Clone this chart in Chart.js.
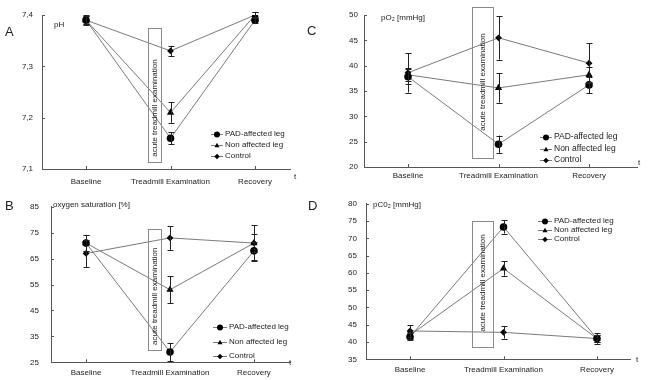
<!DOCTYPE html>
<html><head><meta charset="utf-8">
<script src="https://cdn.jsdelivr.net/npm/chart.js@4.4.0/dist/chart.umd.min.js"></script>
<style>
html,body{margin:0;padding:0;background:#fff;width:650px;height:380px;overflow:hidden}
canvas{position:absolute}
</style></head><body>
<canvas id="cA" style="left:0;top:0" width="303" height="190"></canvas>
<canvas id="cC" style="left:303px;top:0" width="347" height="190"></canvas>
<canvas id="cB" style="left:0;top:190px" width="303" height="190"></canvas>
<canvas id="cD" style="left:303px;top:190px" width="347" height="190"></canvas>
<script>
// ---- data ----
const categories = ['Baseline', 'Treadmill Examination', 'Recovery'];
const seriesNames = ['PAD-affected leg', 'Non affected leg', 'Control'];

// A: pH
const phTicks = [7.1, 7.2, 7.3, 7.4];
const phPAD = [7.39, 7.16, 7.39];
const phNon = [7.39, 7.21, 7.40];
const phCtrl = [7.39, 7.33, 7.40];
const phPADErr = [0.008, 0.012, 0.006];
const phNonErr = [0.008, 0.02, 0.006];
const phCtrlErr = [0.01, 0.01, 0.006];

// C: pO2
const po2Ticks = [20, 25, 30, 35, 40, 45, 50];
const po2PAD = [37.8, 24.5, 36.2];
const po2Non = [38.2, 35.6, 38.2];
const po2Ctrl = [38.6, 45.5, 40.5];
const po2PADErr = [1.5, 1.7, 1.6];
const po2NonErr = [1.3, 2.9, 1.5];
const po2CtrlErr = [3.9, 4.3, 3.9];

// B: oxygen saturation
const satTicks = [25, 35, 45, 55, 65, 75, 85];
const satPAD = [71, 29, 68];
const satNon = [71, 53, 71];
const satCtrl = [67, 73, 71];
const satPADErr = [3.2, 3.5, 3.5];
const satNonErr = [3, 5.2, 3.5];
const satCtrlErr = [5.2, 4.6, 7];

// D: pCO2
const pco2Ticks = [35, 40, 45, 50, 55, 60, 65, 70, 75, 80];
const pco2PAD = [41.5, 73.3, 41];
const pco2Non = [42, 61.3, 41];
const pco2Ctrl = [43.2, 42.8, 41];
const pco2PADErr = [1, 1.9, 1];
const pco2NonErr = [1, 2.1, 1];
const pco2CtrlErr = [1.7, 1.8, 1.5];

// ---- styling ----
const FONT = 'Liberation Sans, Arial, DejaVu Sans, sans-serif';
const pointStyles = ['circle', 'triangle', 'rectRot'];
const pointRadii = [3.8, 4.2, 3.4];
const LINE = '#7a7a7a';
const AXIS = '#555';
const TXT = '#222';

function drawMarker(ctx, style, x, y, r) {
  ctx.beginPath();
  if (style === 'circle') ctx.arc(x, y, r, 0, Math.PI * 2);
  else if (style === 'triangle') { ctx.moveTo(x, y - r); ctx.lineTo(x + r * 0.9, y + r * 0.6); ctx.lineTo(x - r * 0.9, y + r * 0.6); ctx.closePath(); }
  else { ctx.moveTo(x, y - r); ctx.lineTo(x + r, y); ctx.lineTo(x, y + r); ctx.lineTo(x - r, y); ctx.closePath(); }
  ctx.fill();
}

function makePanel(cfg) {
  const canvas = document.getElementById(cfg.id);
  const W = canvas.width, H = canvas.height, a = cfg.area;
  const yt = cfg.yTicks;
  const deco = {
    id: 'deco',
    afterDraw(chart) {
      const ctx = chart.ctx, xs = chart.scales.x, ys = chart.scales.y;
      const L = chart.chartArea.left, B = chart.chartArea.bottom;
      ctx.save();
      // inward ticks
      ctx.strokeStyle = AXIS; ctx.lineWidth = 1;
      ctx.beginPath();
      yt.forEach(v => { const p = Math.round(ys.getPixelForValue(v)) + 0.5; ctx.moveTo(L, p); ctx.lineTo(L + 3, p); });
      categories.forEach((c, i) => { const p = Math.round(xs.getPixelForValue(i)) + 0.5; ctx.moveTo(p, B); ctx.lineTo(p, B - 3); });
      ctx.stroke();
      // error bars
      ctx.strokeStyle = '#222';
      cfg.series.forEach((vals, s) => {
        vals.forEach((v, j) => {
          const e = cfg.errs[s][j];
          const x = Math.round(xs.getPixelForValue(j)) + 0.5;
          const y1 = ys.getPixelForValue(v + e), y2 = ys.getPixelForValue(v - e);
          ctx.beginPath();
          ctx.moveTo(x, y1); ctx.lineTo(x, y2);
          ctx.moveTo(x - 3, Math.round(y1) + 0.5); ctx.lineTo(x + 3, Math.round(y1) + 0.5);
          ctx.moveTo(x - 3, Math.round(y2) + 0.5); ctx.lineTo(x + 3, Math.round(y2) + 0.5);
          ctx.stroke();
        });
      });
      // examination box
      const r = cfg.box;
      const bx1 = Math.round(xs.getPixelForValue(r.x0)) + 0.5, bx2 = Math.round(xs.getPixelForValue(r.x1)) + 0.5;
      const by1 = Math.round(ys.getPixelForValue(r.y1)) + 0.5, by2 = Math.round(ys.getPixelForValue(r.y0)) + 0.5;
      ctx.strokeStyle = '#8a8a8a';
      ctx.strokeRect(bx1, by1, bx2 - bx1, by2 - by1);
      ctx.save();
      ctx.translate(xs.getPixelForValue(r.tx), ys.getPixelForValue(r.ty));
      ctx.rotate(-Math.PI / 2);
      ctx.fillStyle = TXT; ctx.font = '8px ' + FONT; ctx.textAlign = 'center'; ctx.textBaseline = 'middle';
      ctx.fillText('acute treadmill examination', 0, 0);
      ctx.restore();
      // texts
      ctx.fillStyle = TXT; ctx.textBaseline = 'middle'; ctx.textAlign = 'left';
      ctx.font = '8px ' + FONT;
      ctx.fillText(cfg.yTitle, cfg.yTitlePos[0], cfg.yTitlePos[1]);
      ctx.fillText('t', cfg.tPos[0], cfg.tPos[1]);
      ctx.fillStyle = '#222';
      ctx.font = '13px ' + FONT;
      ctx.fillText(cfg.letter, cfg.letterPos[0], cfg.letterPos[1]);
      // legend
      const lg = cfg.legend;
      ctx.font = (lg.size || 8) + 'px ' + FONT;
      seriesNames.forEach((n, i) => {
        const y = lg.rows[i];
        ctx.strokeStyle = LINE; ctx.beginPath();
        ctx.moveTo(lg.x1, Math.round(y) + 0.5); ctx.lineTo(lg.x2, Math.round(y) + 0.5); ctx.stroke();
        ctx.fillStyle = '#000';
        drawMarker(ctx, pointStyles[i], (lg.x1 + lg.x2) / 2, Math.round(y) + 0.5, i === 0 ? 3 : 2.8);
        ctx.fillStyle = TXT;
        ctx.fillText(n, lg.tx, y);
      });
      ctx.restore();
    }
  };
  return new Chart(canvas, {
    type: 'line',
    data: {
      datasets: cfg.series.map((vals, i) => ({
        label: seriesNames[i],
        data: vals.map((v, j) => ({ x: j, y: v })),
        borderColor: LINE, borderWidth: 1, tension: 0, fill: false,
        pointStyle: pointStyles[i], pointRadius: pointRadii[i],
        pointBackgroundColor: '#000', pointBorderColor: '#000', pointBorderWidth: 0
      }))
    },
    options: {
      responsive: false, animation: false, events: [],
      layout: { padding: { left: 0, top: a.top, right: W - a.right, bottom: 0 } },
      plugins: { legend: { display: false }, tooltip: { enabled: false } },
      scales: {
        x: {
          type: 'linear', min: cfg.xRange[0], max: cfg.xRange[1],
          afterBuildTicks: s => { s.ticks = categories.map((c, i) => ({ value: i })); },
          afterFit: s => { s.height = H - a.bottom; },
          grid: { display: false, drawTicks: false },
          border: { display: true, color: AXIS, width: 1 },
          ticks: { padding: cfg.xPad, color: TXT, font: { family: FONT, size: 8 }, autoSkip: false, maxRotation: 0,
                   callback: v => categories[v] }
        },
        y: {
          type: 'linear', min: yt[0], max: yt[yt.length - 1],
          afterBuildTicks: s => { s.ticks = yt.map(v => ({ value: v })); },
          afterFit: s => { s.width = a.left; },
          grid: { display: false, drawTicks: false },
          border: { display: true, color: AXIS, width: 1 },
          ticks: { padding: cfg.yPad, color: TXT, font: { family: FONT, size: 8 }, autoSkip: false,
                   callback: cfg.fmt }
        }
      }
    },
    plugins: [deco]
  });
}

makePanel({
  id: 'cA', area: { left: 42, right: 290, top: 15, bottom: 169 }, xRange: [-0.521, 2.414],
  yTicks: phTicks, fmt: v => v.toFixed(1).replace('.', ','), xPad: 8, yPad: 9,
  series: [phPAD, phNon, phCtrl], errs: [phPADErr, phNonErr, phCtrlErr],
  box: { x0: 0.734, x1: 0.888, y0: 7.1136, y1: 7.3747, tx: 0.81, ty: 7.2188 },
  yTitle: 'pH', yTitlePos: [54, 25], tPos: [294, 177], letter: 'A', letterPos: [5, 32],
  legend: { x1: 211, x2: 223, tx: 225, rows: [134, 145, 156] }
});
makePanel({
  id: 'cC', area: { left: 61, right: 334, top: 15, bottom: 167 }, xRange: [-0.486, 2.530],
  yTicks: po2Ticks, fmt: v => String(v), xPad: 4, yPad: 6,
  series: [po2PAD, po2Non, po2Ctrl], errs: [po2PADErr, po2NonErr, po2CtrlErr],
  box: { x0: 0.707, x1: 0.939, y0: 21.78, y1: 51.58, tx: 0.823, ty: 36.78 },
  yTitle: 'pO\u2082 [mmHg]', yTitlePos: [78, 18], tPos: [335, 163], letter: 'C', letterPos: [4, 31],
  legend: { x1: 237, x2: 249, tx: 251, rows: [137, 149, 160], size: 8.5 }
});
makePanel({
  id: 'cB', area: { left: 51, right: 290, top: 9.3, bottom: 172.3 }, xRange: [-0.417, 2.429],
  yTicks: satTicks, fmt: v => String(v), xPad: 6, yPad: 12,
  series: [satPAD, satNon, satCtrl], errs: [satPADErr, satNonErr, satCtrlErr],
  box: { x0: 0.738, x1: 0.893, y0: 29.9, y1: 76.28, tx: 0.815, ty: 50.5 },
  yTitle: 'oxygen saturation [%]', yTitlePos: [53, 15], tPos: [289, 173], letter: 'B', letterPos: [5, 16],
  legend: { x1: 213, x2: 227, tx: 229, rows: [137, 152, 166] }
});
makePanel({
  id: 'cD', area: { left: 63, right: 327, top: 10, bottom: 169.3 }, xRange: [-0.471, 2.353],
  yTicks: pco2Ticks, fmt: v => String(v), xPad: 6, yPad: 9,
  series: [pco2PAD, pco2Non, pco2Ctrl], errs: [pco2PADErr, pco2NonErr, pco2CtrlErr],
  box: { x0: 0.663, x1: 0.888, y0: 38.5, y1: 74.92, tx: 0.775, ty: 57.1 },
  yTitle: 'pC0\u2082 [mmHg]', yTitlePos: [70, 15], tPos: [333, 170], letter: 'D', letterPos: [5, 16],
  legend: { x1: 235, x2: 249, tx: 251, rows: [31, 39.5, 49] }
});
</script>
</body></html>
